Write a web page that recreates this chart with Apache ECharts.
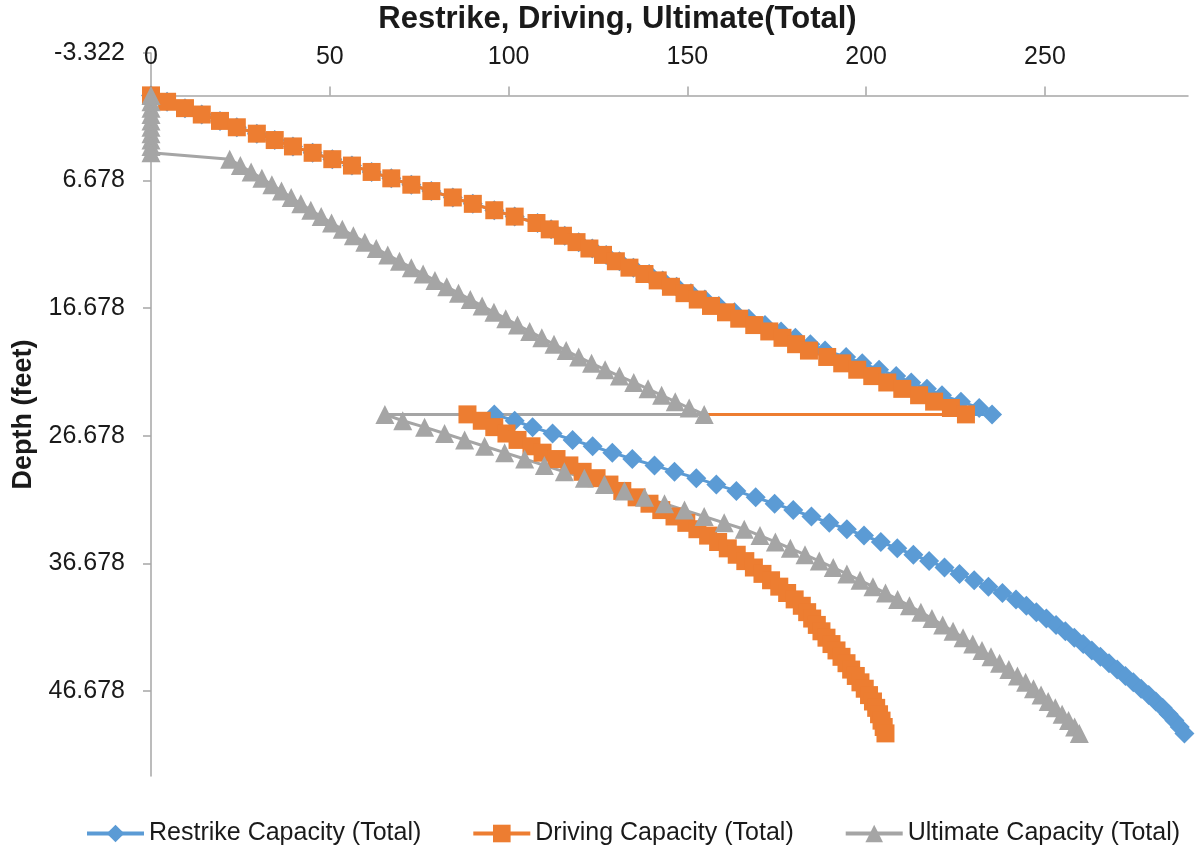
<!DOCTYPE html>
<html><head><meta charset="utf-8">
<script src="https://cdn.jsdelivr.net/npm/echarts@6/dist/echarts.min.js"></script>
<style>html,body{margin:0;padding:0;background:#fff}#c{width:1195px;height:848px}</style>
</head><body><div id="c"></div>
<script>
// Depth (feet) at which each value was read
const depthUpper = [0,0.5,1,1.5,2,2.5,3,3.5,4,4.5,5,5.5,6,6.5,7,7.5,8,8.5,9,9.5,10,10.5,11,11.5,12,12.5,13,13.5,14,14.5,15,15.5,16,16.5,17,17.5,18,18.5,19,19.5,20,20.5,21,21.5,22,22.5,23,23.5,24,24.5,25];
const depthLower = [25,25.5,26,26.5,27,27.5,28,28.5,29,29.5,30,30.5,31,31.5,32,32.5,33,33.5,34,34.5,35,35.5,36,36.5,37,37.5,38,38.5,39,39.5,40,40.5,41,41.5,42,42.5,43,43.5,44,44.5,45,45.5,46,46.5,47,47.5,48,48.5,49,49.5,50];

const restrikeUpper = [0,4.5,9.5,14.2,19.3,24,29.6,34.6,39.7,45.2,50.7,56.2,61.7,67.2,72.8,78.4,84.4,90,96,101.7,108.1,111.9,115.7,119.6,123.4,127.3,131,134.9,139.3,143.1,147,151,154.9,158.8,163.2,167.2,171.7,176.2,180.2,184.4,188.5,194.4,198.9,203.6,208.4,212.6,217,221.2,226.5,231.6,235.2];
const restrikeLower = [96,101.7,106.7,112.3,117.9,123.5,129,134.6,140.8,146.4,152.5,158.1,163.7,169.1,174.4,179.6,184.7,189.7,194.6,199.4,204.1,208.7,213.2,217.6,221.9,226.1,230.2,234.2,238.1,241.9,244.8,247.6,250.4,253.1,255.7,258.2,260.7,263.1,265.5,267.9,270.2,272.5,274.7,276.9,279,281,282.9,284.6,286.2,287.7,289];

const drivingUpper = [0,4.5,9.5,14.2,19.3,24,29.6,34.6,39.7,45.2,50.7,56.2,61.7,67.2,72.8,78.4,84.4,90,96,101.7,107.8,111.5,115.2,119,122.6,126.4,130,133.8,138,141.7,145.4,149.2,152.9,156.6,160.8,164.5,168.7,172.9,176.6,180.4,184,189.1,193.3,197.5,201.7,205.9,210.1,214.8,219,223.7,227.9];
const drivingLower = [88.5,92.5,96,99.4,102.5,106.4,109.5,113.4,117,120.7,124.6,128.2,131.8,135.8,139.4,142.7,146.4,149.7,152.8,155.8,158.6,161.3,163.8,166.2,168.6,171,173.4,175.7,177.9,180,182,183.5,184.9,186.2,187.5,188.9,190.3,191.7,193.1,194.5,195.8,197.1,198.4,199.6,200.8,201.9,202.8,203.6,204.3,204.9,205.4];

const ultimateUpper = [0,0,0,0,0,0,0,0,0,0,22,25,28,31,33.8,36.5,39.2,41.9,44.7,47.6,50.5,53.5,56.6,59.8,63,66.2,69.5,72.8,76.1,79.4,82.7,86,89.3,92.6,95.9,99.2,102.5,105.9,109.3,112.7,116.1,119.6,123.2,127,131,135,139,142.8,146.6,150.5,154.7];
const ultimateLower = [65.4,70.4,76.5,82.1,87.7,93.3,98.9,104.5,110,115.6,121.2,126.8,132.4,138,143.6,149.2,154.7,160.3,165.9,170.3,174.6,178.8,182.9,186.9,190.8,194.6,198.3,201.9,205.4,208.8,212.1,215.3,218.4,221.4,224.3,227.1,229.8,232.4,234.9,237.3,239.9,242.3,244.6,246.8,248.9,250.9,252.9,254.8,256.6,258.3,259.6];

const capacityTicks = [0,50,100,150,200,250];
const depthTicks = [-3.322,6.678,16.678,26.678,36.678,46.678];

const FONT = '"Liberation Sans", Arial, sans-serif';
const TXT = '#1a1a1a';
const AXIS = '#a6a6a6';

function pairs(upper, lower){
  return upper.map((v,i)=>[v, depthUpper[i]]).concat(lower.map((v,i)=>[v, depthLower[i]]));
}
const defs = [
  {name:'Restrike Capacity (Total)', data:pairs(restrikeUpper, restrikeLower), color:'#5B9BD5', symbol:'diamond', size:20},
  {name:'Driving Capacity (Total)', data:pairs(drivingUpper, drivingLower), color:'#ED7D31', symbol:'rect', size:18},
  {name:'Ultimate Capacity (Total)', data:pairs(ultimateUpper, ultimateLower), color:'#A5A5A5', symbol:'triangle', size:19}
];

const chart = echarts.init(document.getElementById('c'));
chart.setOption({
  animation:false,
  backgroundColor:'#fff',
  grid:{left:151, right:7, top:53, bottom:72, containLabel:false, outerBoundsMode:'none'},
  xAxis:[
    {type:'value', position:'top', min:0, max:290,
     axisLine:{show:false, onZero:false}, axisTick:{show:false}, splitLine:{show:false},
     axisLabel:{customValues:capacityTicks, fontSize:25, color:TXT, fontFamily:FONT, margin:-4, verticalAlign:'middle'},
     name:'Restrike, Driving, Ultimate(Total)', nameLocation:'middle', nameGap:34,
     nameTextStyle:{fontWeight:'bold', fontSize:31, color:TXT, fontFamily:FONT, verticalAlign:'middle', padding:[0,104,0,0]}},
    {type:'value', position:'top', min:0, max:290,
     axisLine:{show:true, onZero:true, lineStyle:{color:AXIS, width:1.5}},
     axisTick:{show:true, inside:false, length:9, customValues:capacityTicks, lineStyle:{color:AXIS, width:1.5}},
     axisLabel:{show:false}, splitLine:{show:false}}
  ],
  yAxis:{type:'value', inverse:true, min:-3.322, max:53.34,
    axisLine:{show:true, onZero:false, lineStyle:{color:AXIS, width:1.5}},
    axisTick:{show:true, length:8, customValues:depthTicks, lineStyle:{color:AXIS, width:1.5}},
    axisLabel:{customValues:depthTicks, formatter:v=>Number(v).toFixed(3), fontSize:25, margin:26, color:TXT, fontFamily:FONT},
    splitLine:{show:false},
    name:'Depth (feet)', nameLocation:'middle', nameRotate:90, nameGap:114,
    nameTextStyle:{fontWeight:'bold', fontSize:27, color:TXT, fontFamily:FONT}},
  legend:{left:80, top:816, itemWidth:57, itemHeight:22, itemGap:50,
    lineStyle:{width:4},
    textStyle:{fontSize:25, color:TXT, fontFamily:FONT},
    data:defs.map(d=>d.name)},
  series:defs.map(d=>({
    name:d.name, type:'line', data:d.data, xAxisIndex:0, yAxisIndex:0,
    symbol:d.symbol, symbolSize:d.size, clip:false,
    lineStyle:{color:d.color, width:3}, itemStyle:{color:d.color},
    emphasis:{disabled:true}
  }))
});
</script></body></html>
